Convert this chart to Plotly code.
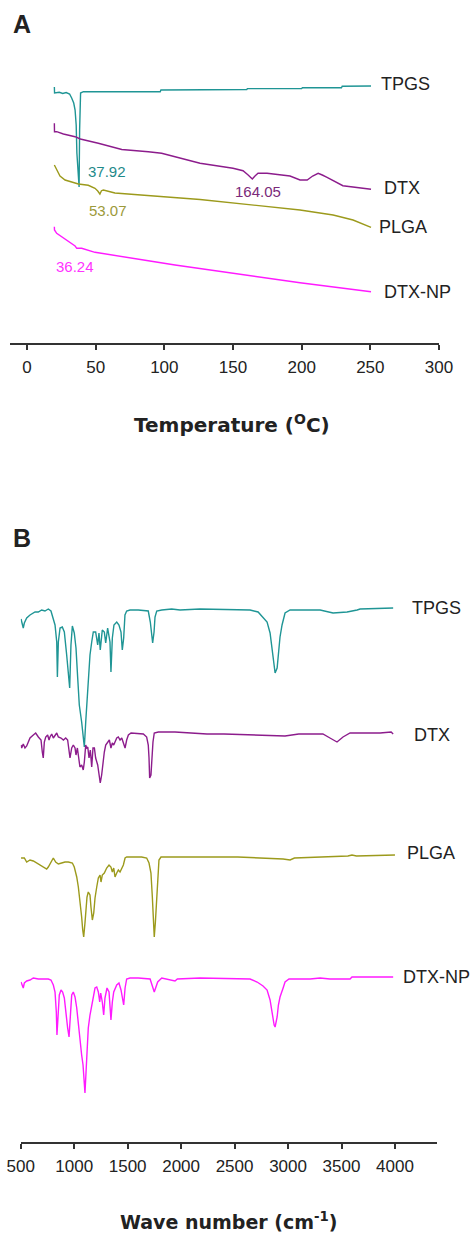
import plotly.graph_objects as go

# ---------------- Panel A : DSC thermograms (heat flow, arbitrary units) ----------------
tpgs_dsc_T = [19.9, 20.05, 23.5, 26, 28.5, 31, 32.5, 34, 35, 35.8, 36.3, 37.5, 37.92, 38.3, 39, 41,
              97, 97.5, 160, 160.5, 200, 200.5, 229, 229.5, 250.5]
tpgs_dsc_v = [256, 250, 250.7, 249.5, 250.5, 249, 245, 240, 233, 218, 190, 163, 156, 213, 250, 251.3,
              251.3, 253, 253.5, 254.4, 254.4, 255.3, 255.3, 256.7, 257]

dtx_dsc_T = [19.9, 20, 21.6, 26.5, 35, 38.8, 51.9, 64, 69, 88.3, 98, 107.8, 126, 150, 157.3, 161,
             164.05, 166, 168.2, 174.8, 191.5, 198.8, 204, 208, 212, 215, 218.5, 230, 250.5]
dtx_dsc_v = [219.7, 211.3, 211.3, 209, 206.3, 204, 199.7, 195, 193.5, 191.3, 189.7, 186.3, 179.7, 174.7,
             172.3, 168, 164, 167, 169.7, 169.7, 167, 163, 163, 167, 169.7, 168, 165.7, 157.3, 153.7]

plga_dsc_T = [19.9, 21.6, 24, 27.7, 32.6, 37.4, 44.6, 49.5, 51.5, 53.07, 54.2, 55.6, 64, 76.3, 88.3,
              102, 126, 150, 198.8, 222.9, 237.4, 250.5]
plga_dsc_v = [178, 173, 167, 163, 160.7, 159, 157.7, 154.7, 152, 149, 152.3, 153, 150, 148.5, 147,
              146, 143.5, 140, 133, 128, 123, 115.7]

dtxnp_dsc_T = [19.9, 20, 21.6, 25.3, 30, 35, 36.24, 39.8, 49.5, 64, 76.3, 88.3, 107.8, 150, 198.8, 250.5]
dtxnp_dsc_v = [116.3, 113, 109.7, 106.3, 101.3, 97, 94.7, 94.7, 90.7, 87.3, 84.7, 82.3, 78, 69.7, 60.3, 51.3]

dsc_ticks = [0, 50, 100, 150, 200, 250, 300]

# ---------------- Panel B : FTIR spectra (transmittance, arbitrary units, offset) ----------------
tpgs_ir_w = [503, 515, 524, 534, 556, 587, 634, 665, 696, 727, 758, 783, 805, 821, 837, 843, 852, 868,
             889, 908, 930, 945, 958, 970, 983, 1001, 1017, 1033, 1048, 1070, 1085, 1095, 1108, 1123,
             1132, 1148, 1164, 1179, 1201, 1220, 1232, 1244, 1263, 1282, 1295, 1313, 1335, 1344, 1357,
             1372, 1398, 1419, 1438, 1450, 1463, 1475, 1491, 1522, 1600, 1693, 1712, 1725, 1734, 1747,
             1756, 1772, 1819, 1912, 1990, 2176, 2645, 2720, 2766, 2804, 2832, 2851, 2870, 2879, 2898,
             2910, 2925, 2944, 2972, 3019, 3300, 3421, 3552, 3646, 3674, 3983]
tpgs_ir_v = [523, 517, 514, 519, 524, 527, 530, 530, 532, 531, 533, 531, 524, 517, 500, 465, 500, 514,
             515, 510, 487, 464, 454, 497, 516, 509, 494, 464, 437, 420, 400, 395, 420, 447,
             464, 487, 500, 510, 510, 497, 509, 492, 512, 510, 499, 514, 500, 470, 504,
             517, 520, 517, 510, 492, 504, 527, 531, 532, 532, 531, 520, 504, 499, 510,
             525, 531, 532, 533, 532, 533, 532, 530, 525, 520, 509, 492, 479, 469, 474,
             492, 505, 517, 529, 532, 532, 529, 530, 532, 533, 534]

dtx_ir_w = [503, 509, 524, 540, 556, 571, 587, 618, 640, 665, 690, 702, 711, 721, 734, 752, 765, 774,
            790, 805, 821, 837, 852, 877, 899, 921, 939, 952, 961, 977, 992, 1008, 1017, 1030, 1045,
            1054, 1070, 1085, 1095, 1108, 1117, 1127, 1139, 1151, 1164, 1176, 1189, 1201, 1220, 1232,
            1244, 1257, 1269, 1282, 1295, 1313, 1329, 1344, 1357, 1370, 1382, 1398, 1413, 1429, 1445,
            1460, 1476, 1491, 1507, 1532, 1647, 1678, 1693, 1700, 1706, 1718, 1725, 1737, 1749, 1787,
            1943, 2242, 2400, 2784, 2972, 3100, 3326, 3392, 3458, 3514, 3580, 3861, 3964, 3983]
dtx_ir_v = [397, 394, 398, 394, 396, 400, 404, 407, 409, 405, 402, 390, 384, 400, 405, 407, 402, 405,
            408, 404, 407, 409, 405, 404, 402, 404, 402, 392, 384, 394, 397, 394, 387, 394, 380,
            375, 377, 372, 380, 397, 394, 395, 384, 392, 375, 394, 394, 384, 377, 367,
            359, 367, 379, 390, 397, 400, 402, 394, 399, 397, 400, 404, 405, 402, 404,
            400, 394, 402, 407, 409, 408, 405, 397, 384, 364, 367, 380, 400, 409, 410,
            410, 408, 408, 407, 406, 408, 408, 404, 400, 405, 409, 409, 410, 408]

plga_ir_w = [503, 534, 556, 587, 618, 649, 680, 711, 743, 758, 783, 805, 827, 852, 883, 914, 945, 983,
             1001, 1024, 1039, 1054, 1070, 1080, 1089, 1101, 1111, 1120, 1132, 1148, 1157, 1170, 1183,
             1195, 1211, 1226, 1242, 1251, 1263, 1282, 1304, 1326, 1344, 1357, 1370, 1382, 1398, 1413,
             1429, 1445, 1460, 1476, 1491, 1631, 1678, 1700, 1718, 1731, 1740, 1749, 1759, 1772, 1781,
             1793, 1812, 1880, 1943, 2530, 2954, 3019, 3060, 3560, 3598, 3640, 4000]
plga_ir_v = [284, 284, 280, 282, 281, 279, 277, 275, 273, 275, 280, 284, 280, 278, 279, 280, 280, 279,
             275, 265, 255, 242, 225, 212, 205, 219, 239, 245, 250, 247, 235, 222, 229,
             244, 255, 264, 267, 260, 267, 269, 274, 277, 275, 270, 274, 265, 269, 272,
             270, 274, 277, 284, 285, 285, 284, 279, 269, 245, 222, 205, 219, 242, 269,
             282, 285, 285, 285, 285, 283, 282, 284, 286, 287, 286, 287]

dtxnp_ir_w = [503, 515, 524, 534, 556, 587, 618, 665, 711, 758, 783, 805, 821, 833, 839, 849, 861, 877,
              892, 908, 924, 939, 952, 964, 977, 992, 1008, 1024, 1039, 1054, 1070, 1083, 1092, 1101,
              1111, 1120, 1132, 1148, 1164, 1179, 1195, 1211, 1226, 1239, 1248, 1263, 1276, 1288, 1307,
              1326, 1338, 1344, 1357, 1370, 1398, 1419, 1438, 1450, 1463, 1476, 1491, 1522, 1600, 1710,
              1725, 1737, 1749, 1762, 1781, 1819, 1920, 1943, 1965, 2176, 2645, 2711, 2766, 2804, 2832,
              2851, 2860, 2870, 2879, 2898, 2910, 2925, 2954, 2972, 3009, 3207, 3300, 3392, 3580, 3598,
              3983]
dtxnp_ir_v = [160, 157, 154, 159, 161, 162, 164, 163, 163, 163, 162, 157, 150, 130, 107, 127, 147, 152,
              150, 144, 127, 114, 105, 127, 147, 150, 145, 134, 117, 100, 87, 77, 54, 49,
              70, 97, 114, 127, 137, 147, 154, 155, 150, 140, 149, 140, 127, 144, 154,
              150, 134, 122, 140, 150, 157, 159, 152, 144, 137, 154, 163, 164, 164, 163,
              159, 154, 150, 154, 160, 164, 162, 161, 163, 164, 163, 160, 156, 152, 142,
              129, 122, 117, 115, 125, 137, 145, 154, 160, 163, 163, 164, 163, 163, 165,
              165]

ir_ticks = [500, 1000, 1500, 2000, 2500, 3000, 3500, 4000]

# ---------------- styling ----------------
C_TPGS = "#1f9595"
C_DTX = "#8c1c8c"
C_PLGA = "#9c9a1c"
C_NP = "#ff1aff"
LW = 1.4
W, H = 474, 1234
FONT = "Liberation Sans, Arial, sans-serif"
TITLE_FONT = "DejaVu Sans, Liberation Sans, Arial, sans-serif"

fig = go.Figure()

for xs, ys, c in [(tpgs_dsc_T, tpgs_dsc_v, C_TPGS), (dtx_dsc_T, dtx_dsc_v, C_DTX),
                  (plga_dsc_T, plga_dsc_v, C_PLGA), (dtxnp_dsc_T, dtxnp_dsc_v, C_NP)]:
    fig.add_trace(go.Scatter(x=xs, y=ys, mode="lines", line=dict(color=c, width=LW),
                             xaxis="x", yaxis="y", showlegend=False, hoverinfo="skip"))

for xs, ys, c in [(tpgs_ir_w, tpgs_ir_v, C_TPGS), (dtx_ir_w, dtx_ir_v, C_DTX),
                  (plga_ir_w, plga_ir_v, C_PLGA), (dtxnp_ir_w, dtxnp_ir_v, C_NP)]:
    fig.add_trace(go.Scatter(x=xs, y=ys, mode="lines", line=dict(color=c, width=LW),
                             xaxis="x2", yaxis="y2", showlegend=False, hoverinfo="skip"))

axis_common = dict(showline=True, linecolor="#333333", linewidth=1.5, ticks="outside", ticklen=5,
                   tickwidth=1.5, tickcolor="#333333", showgrid=False, zeroline=False,
                   automargin=False,
                   tickfont=dict(family=FONT, size=17, color="#222222"), ticklabelstandoff=3)
hidden_y = dict(visible=False, showgrid=False, zeroline=False, automargin=False)

fig.update_layout(
    width=W, height=H,
    margin=dict(l=0, r=0, t=0, b=0, pad=0, autoexpand=False),
    paper_bgcolor="white", plot_bgcolor="white",
    xaxis=dict(domain=[10 / W, 439 / W], range=[-12.4, 300], tickvals=dsc_ticks,
               anchor="y", **axis_common),
    yaxis=dict(domain=[1 - 343 / H, 1 - 60 / H], range=[0, 283], anchor="x", **hidden_y),
    xaxis2=dict(domain=[20.7 / W, 437 / W], range=[500, 4393], tickvals=ir_ticks,
                anchor="y2", **axis_common),
    yaxis2=dict(domain=[1 - 1142 / H, 1 - 590 / H], range=[0, 552], anchor="x2", **hidden_y),
)

ann = []
def label(x, y, text, xref, yref, color="#222222", size=18, xanchor="left", family=FONT):
    ann.append(dict(x=x, y=y, xref=xref, yref=yref, text=text, showarrow=False,
                    xanchor=xanchor, yanchor="middle", font=dict(family=family, size=size, color=color)))

# series names panel A
label(256, 259, "TPGS", "x", "y")
label(258.5, 155, "DTX", "x", "y")
label(254.5, 116, "PLGA", "x", "y")
label(258.5, 51.3, "DTX-NP", "x", "y")
# peak temperatures
label(58.0, 172, "37.92", "x", "y", color="#1f8a8a", size=15, xanchor="center")
label(167.9, 152, "164.05", "x", "y", color="#7a2a7a", size=15, xanchor="center")
label(58.6, 133, "53.07", "x", "y", color="#9c9a3a", size=15, xanchor="center")
label(35.0, 77, "36.24", "x", "y", color="#ff33ff", size=15, xanchor="center")
# series names panel B
label(4140, 534, "TPGS", "x2", "y2")
label(4159, 407, "DTX", "x2", "y2")
label(4094, 289, "PLGA", "x2", "y2")
label(4060, 165, "DTX-NP", "x2", "y2")

# panel letters and axis titles
label(11 / W, 1 - 24 / H, "<b>A</b>", "paper", "paper", size=25, family="Liberation Sans, Arial")
label(11 / W, 1 - 538 / H, "<b>B</b>", "paper", "paper", size=25, family="Liberation Sans, Arial")
label(231.5 / W, 1 - 424 / H, "<b>Temperature (<sup>O</sup>C)</b>", "paper", "paper",
      size=20, xanchor="center", family=TITLE_FONT)
label(228.5 / W, 1 - 1221 / H, "<b>Wave number (cm<sup>-1</sup>)</b>", "paper", "paper",
      size=19, xanchor="center", family=TITLE_FONT)

fig.update_layout(annotations=ann)
fig.write_html("out.html", config={"displayModeBar": False},
               post_script="document.body.style.margin='0px';document.body.style.padding='0px';")
